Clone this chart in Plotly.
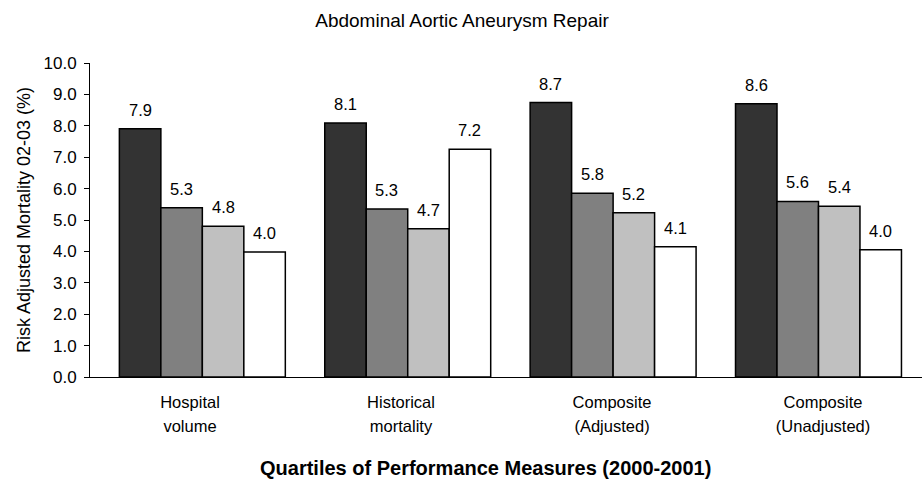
import plotly.graph_objects as go

categories = ["Hospital volume", "Historical mortality", "Composite (Adjusted)", "Composite (Unadjusted)"]
label_line1 = ["Hospital", "Historical", "Composite", "Composite"]
label_line2 = ["volume", "mortality", "(Adjusted)", "(Unadjusted)"]
quartiles = ["Q1", "Q2", "Q3", "Q4"]

q1_values = [7.91, 8.09, 8.74, 8.70]
q2_values = [5.39, 5.35, 5.85, 5.59]
q3_values = [4.80, 4.72, 5.23, 5.44]
q4_values = [3.98, 7.25, 4.15, 4.05]

q1_labels = ["7.9", "8.1", "8.7", "8.6"]
q2_labels = ["5.3", "5.3", "5.8", "5.6"]
q3_labels = ["4.8", "4.7", "5.2", "5.4"]
q4_labels = ["4.0", "7.2", "4.1", "4.0"]

y_ticks = [0, 1, 2, 3, 4, 5, 6, 7, 8, 9, 10]

series_values = [q1_values, q2_values, q3_values, q4_values]
series_labels = [q1_labels, q2_labels, q3_labels, q4_labels]
colors = ["#333333", "#808080", "#c0c0c0", "#ffffff"]

FONT = "Liberation Sans, Arial, sans-serif"
x_idx = list(range(len(categories)))

fig = go.Figure()
for name, vals, col in zip(quartiles, series_values, colors):
    fig.add_trace(go.Bar(
        x=x_idx, y=vals, name=name,
        marker=dict(color=col, line=dict(color="#000000", width=1.5)),
        hoverinfo="skip",
    ))

# invisible helpers for category label axes (two text lines)
fig.add_trace(go.Scatter(x=x_idx, y=[0]*4, xaxis="x2", mode="markers",
                         marker=dict(opacity=0), hoverinfo="skip", showlegend=False))
fig.add_trace(go.Scatter(x=x_idx, y=[0]*4, xaxis="x3", mode="markers",
                         marker=dict(opacity=0), hoverinfo="skip", showlegend=False))

# value labels
bar_px = 41.5
annotations = []
for i, labs in enumerate(series_labels):
    for j, lab in enumerate(labs):
        annotations.append(dict(
            x=x_idx[j], y=series_values[i][j], xref="x", yref="y",
            text=lab, showarrow=False, yanchor="bottom",
            xshift=(i - 1.5) * bar_px, yshift=8,
            font=dict(family=FONT, size=16.5, color="#000000"),
        ))

annotations.append(dict(
    text="<b>Quartiles of Performance Measures (2000-2001)</b>",
    xref="paper", yref="paper", x=0.475, y=-0.289, xanchor="center", yanchor="middle",
    showarrow=False, font=dict(family=FONT, size=20, color="#000000"),
))

cat_range = [-0.474, 3.469]
fig.update_layout(
    width=924, height=486,
    paper_bgcolor="#ffffff", plot_bgcolor="#ffffff",
    margin=dict(l=90, r=2, t=63, b=109),
    showlegend=False,
    barmode="group", bargap=0.192, bargroupgap=0,
    title=dict(text="Abdominal Aortic Aneurysm Repair", x=0.5, xanchor="center",
               y=1 - 20 / 486, yanchor="middle", yref="container",
               font=dict(family=FONT, size=19, color="#000000")),
    font=dict(family=FONT, color="#000000"),
    xaxis=dict(range=[-0.547, 3.504], showticklabels=False, ticks="",
               showline=True, linecolor="#000000", linewidth=1,
               showgrid=False, zeroline=False, fixedrange=True),
    xaxis2=dict(overlaying="x", range=cat_range, tickvals=x_idx, ticktext=label_line1,
                ticks="", showline=False, showgrid=False, zeroline=False,
                side="bottom", anchor="y", ticklabelstandoff=13,
                tickfont=dict(family=FONT, size=16.5, color="#000000")),
    xaxis3=dict(overlaying="x", range=cat_range, tickvals=x_idx, ticktext=label_line2,
                ticks="", showline=False, showgrid=False, zeroline=False,
                side="bottom", anchor="y", ticklabelstandoff=37,
                tickfont=dict(family=FONT, size=16.5, color="#000000")),
    yaxis=dict(range=[0, 10], tickvals=y_ticks, tickformat=".1f",
               ticks="outside", ticklen=5, tickcolor="#000000",
               showline=True, linecolor="#000000", linewidth=1,
               showgrid=False, zeroline=False, ticklabelstandoff=4,
               tickfont=dict(family=FONT, size=17, color="#000000"),
               title=dict(text="Risk Adjusted Mortality 02-03 (%)", standoff=8,
                          font=dict(family=FONT, size=18, color="#000000"))),
    annotations=annotations,
)

fig.write_html("out.html", config={"displayModeBar": False},
               post_script="document.body.style.margin='0px';")
